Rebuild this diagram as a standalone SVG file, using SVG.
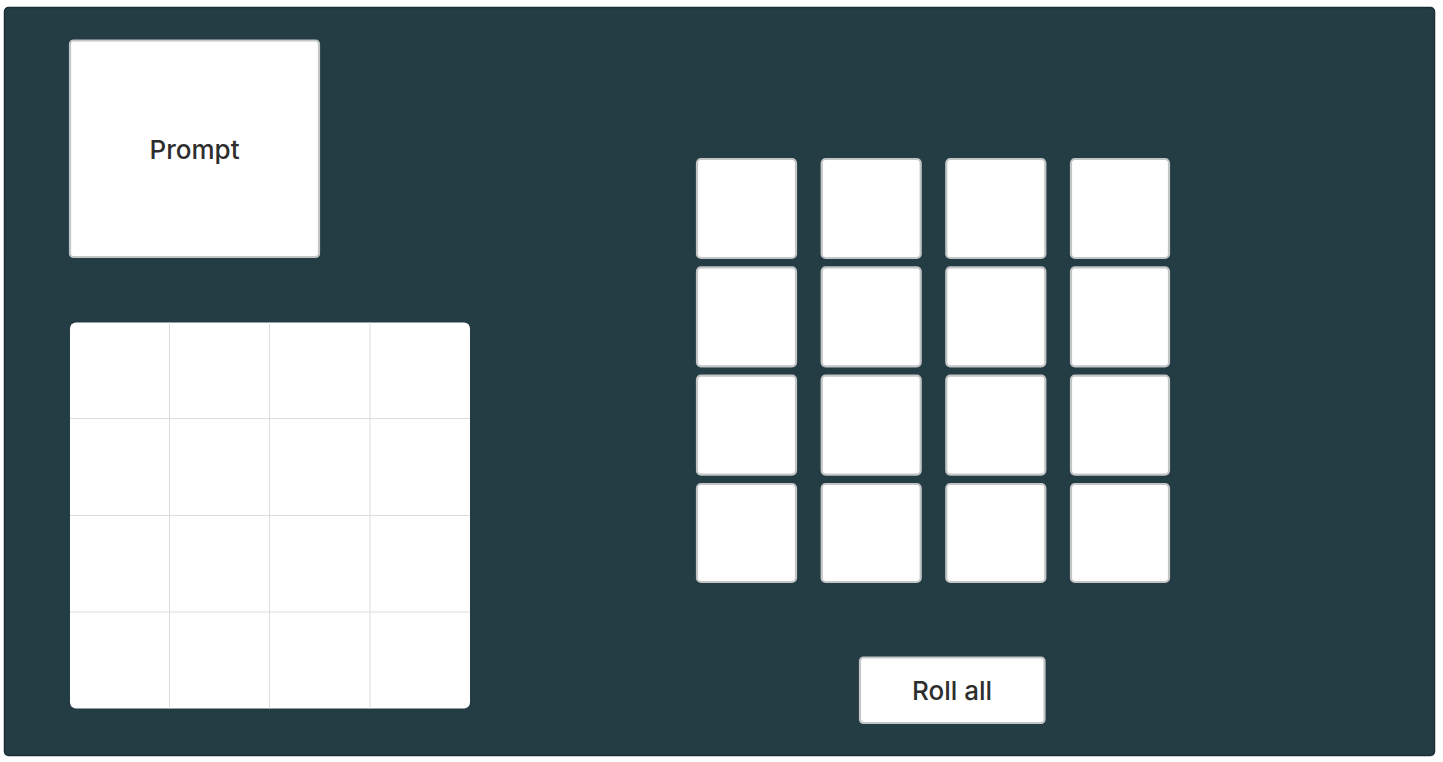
<svg xmlns="http://www.w3.org/2000/svg" width="1443" height="762" viewBox="0 0 1443 762">
<style>
.card{fill:#ffffff;stroke:#c4c5c6;stroke-width:2.2}
.lbl{font-family:Inter,"Noto Sans","Liberation Sans",sans-serif;font-size:26px;font-weight:500;fill:#2e2e2e;text-anchor:middle}
.gl{stroke:#dddddd;stroke-width:1}
</style>
<rect x="0" y="0" width="1443" height="762" fill="#ffffff"/>
<g id="frame">
<rect x="4.5" y="7.5" width="1430" height="748" rx="4" fill="#243c44" stroke="#1b2f36" stroke-width="1.5"/>
</g>
<g id="prompt">
<rect class="card" x="70" y="40.5" width="249" height="216.5" rx="3.5"/>
<text class="lbl" x="194.5" y="158.5">Prompt</text>
</g>
<g id="board">
<rect x="70" y="322.5" width="400" height="386" rx="6" fill="#ffffff"/>
<line class="gl" x1="169.5" y1="322.5" x2="169.5" y2="708.5"/>
<line class="gl" x1="269.5" y1="322.5" x2="269.5" y2="708.5"/>
<line class="gl" x1="370" y1="322.5" x2="370" y2="708.5"/>
<line class="gl" x1="70" y1="418.5" x2="470" y2="418.5"/>
<line class="gl" x1="70" y1="515.5" x2="470" y2="515.5"/>
<line class="gl" x1="70" y1="612" x2="470" y2="612"/>
</g>
<g id="tiles">
<g id="tile-1-1"><rect class="card" x="697" y="159" width="99" height="99" rx="4"/></g>
<g id="tile-1-2"><rect class="card" x="821.7" y="159" width="99" height="99" rx="4"/></g>
<g id="tile-1-3"><rect class="card" x="946.3" y="159" width="99" height="99" rx="4"/></g>
<g id="tile-1-4"><rect class="card" x="1071" y="159" width="98" height="99" rx="4"/></g>
<g id="tile-2-1"><rect class="card" x="697" y="267.3" width="99" height="99" rx="4"/></g>
<g id="tile-2-2"><rect class="card" x="821.7" y="267.3" width="99" height="99" rx="4"/></g>
<g id="tile-2-3"><rect class="card" x="946.3" y="267.3" width="99" height="99" rx="4"/></g>
<g id="tile-2-4"><rect class="card" x="1071" y="267.3" width="98" height="99" rx="4"/></g>
<g id="tile-3-1"><rect class="card" x="697" y="375.6" width="99" height="99" rx="4"/></g>
<g id="tile-3-2"><rect class="card" x="821.7" y="375.6" width="99" height="99" rx="4"/></g>
<g id="tile-3-3"><rect class="card" x="946.3" y="375.6" width="99" height="99" rx="4"/></g>
<g id="tile-3-4"><rect class="card" x="1071" y="375.6" width="98" height="99" rx="4"/></g>
<g id="tile-4-1"><rect class="card" x="697" y="484" width="99" height="98" rx="4"/></g>
<g id="tile-4-2"><rect class="card" x="821.7" y="484" width="99" height="98" rx="4"/></g>
<g id="tile-4-3"><rect class="card" x="946.3" y="484" width="99" height="98" rx="4"/></g>
<g id="tile-4-4"><rect class="card" x="1071" y="484" width="98" height="98" rx="4"/></g>
</g>
<g id="roll-all">
<rect class="card" x="860" y="657.5" width="184.5" height="65.5" rx="3.5"/>
<text class="lbl" x="952" y="699.5">Roll all</text>
</g>
<g id="connectors"/>
</svg>
